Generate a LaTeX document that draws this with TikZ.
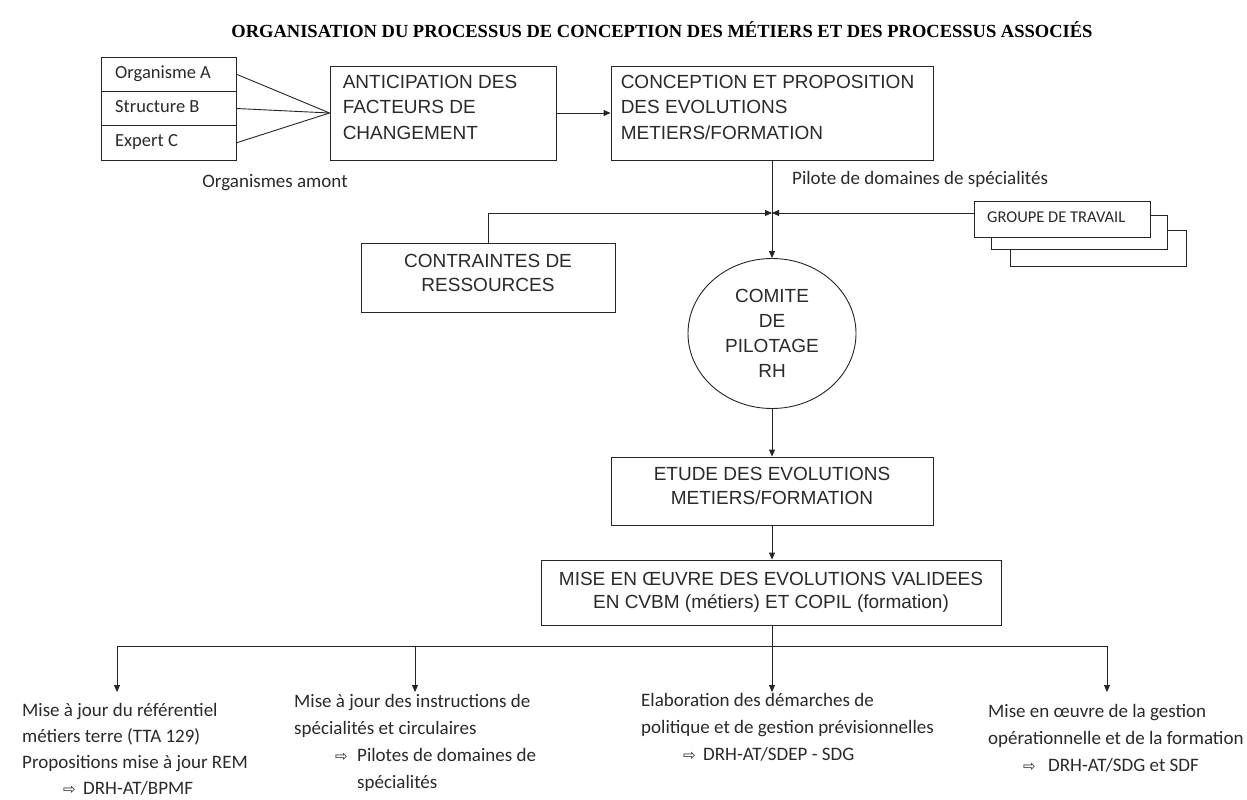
\documentclass[tikz,border=0pt]{standalone}
\usepackage{fontspec}
\setmainfont{Liberation Sans}
\newfontfamily\arialf{Liberation Sans}
\newfontfamily\calibf{Carlito}
\newfontfamily\timesf{Liberation Serif}
\newfontfamily\djvf{DejaVu Sans}
\usetikzlibrary{shapes.geometric,arrows.meta}
\definecolor{ink}{HTML}{2A2A2A}
\definecolor{edge}{HTML}{262626}
\newcommand{\indarrow}[2]{\hspace*{#1}\makebox[#2][l]{\djvf\fontsize{15}{15}\selectfont ⇨}}
\begin{document}
\begin{tikzpicture}[x=1pt,y=-1pt,
  box/.style={draw=edge, line width=0.9pt, rectangle, inner sep=0pt, fill=white},
  atxt/.style={font=\arialf\fontsize{19}{25.5}\selectfont, text=ink, inner sep=0pt},
  ctxt/.style={font=\calibf\fontsize{19}{27}\selectfont, text=ink, inner sep=0pt},
  conn/.style={draw=edge, line width=0.9pt},
  arr/.style={conn, -{Triangle[length=7pt,width=6pt]}},
]
\useasboundingbox[fill=white] (0,0) rectangle (1247,800);

% title
\node[font=\timesf\bfseries\fontsize{18.5}{20}\selectfont, text=black, inner sep=0pt] (title) at (662,30)
  {ORGANISATION DU PROCESSUS DE CONCEPTION DES MÉTIERS ET DES PROCESSUS ASSOCIÉS};

% upstream organisations
\tikzset{orgbox/.style={box, minimum width=135pt, minimum height=34.33pt},
  orgtxt/.style={ctxt, font=\calibf\fontsize{18.5}{20}\selectfont, anchor=mid west}}
\node[orgbox] (orgA) at (168.5,74.2) {};
\node[orgbox] (orgB) at (168.5,108.5) {};
\node[orgbox] (orgC) at (168.5,142.8) {};
\node[orgtxt] (orgAt) at (115,75.5) {Organisme A};
\node[orgtxt] (orgBt) at (115,109.8) {Structure B};
\node[orgtxt] (orgCt) at (115,144.1) {Expert C};
\node[ctxt] (amont) at (275,183) {Organismes amont};

% anticipation
\node[box, minimum width=226pt, minimum height=94pt] (antic) at (443,113) {};
\node[atxt, anchor=north west, align=left] (antict) at ([xshift=13pt,yshift=-9pt]antic.north west)
  {ANTICIPATION DES\\FACTEURS DE\\CHANGEMENT};

% conception
\node[box, minimum width=322pt, minimum height=94pt] (concep) at (772,113) {};
\node[atxt, anchor=north west, align=left] (concept) at ([xshift=10pt,yshift=-9pt]concep.north west)
  {CONCEPTION ET PROPOSITION\\DES EVOLUTIONS\\METIERS/FORMATION};

\node[ctxt, anchor=west] (pilote) at (792,179) {Pilote de domaines de spécialités};

% groupe de travail (stack)
\tikzset{gbox/.style={box, minimum width=176pt, minimum height=36pt}}
\node[gbox] (g3) at (1098.5,248) {};
\node[gbox, minimum height=34pt] (g2) at (1079.5,232) {};
\node[gbox] (g1) at (1062,219) {};
\node[ctxt, font=\calibf\fontsize{16.5}{18}\selectfont, anchor=mid west] (g1t) at (987,220) {GROUPE DE TRAVAIL};

% contraintes
\node[box, minimum width=254pt, minimum height=69pt] (contr) at (488,277.5) {};
\node[atxt, align=center, font=\arialf\fontsize{19}{24}\selectfont] (contrt) at (488,273) {CONTRAINTES DE\\RESSOURCES};

% comite
\node[draw=edge, line width=0.9pt, ellipse, minimum width=168pt, minimum height=150pt, inner sep=0pt,
  align=center, atxt, font=\arialf\fontsize{19}{25}\selectfont] (comite) at (772,333.5) {COMITE\\DE\\PILOTAGE\\RH};

% etude
\node[box, minimum width=322pt, minimum height=68pt] (etude) at (772,491) {};
\node[atxt, align=center, font=\arialf\fontsize{19}{24}\selectfont] (etudet) at (772,486) {ETUDE DES EVOLUTIONS\\METIERS/FORMATION};

% mise en oeuvre
\node[box, minimum width=460pt, minimum height=65pt, align=center, atxt, font=\arialf\fontsize{19}{23}\selectfont] (mise) at (771,592.5) {MISE EN ŒUVRE DES EVOLUTIONS VALIDEES\\EN CVBM (métiers) ET COPIL (formation)};

% junction
\coordinate (jn) at (772,213);

% bottom blocks
\node[ctxt, anchor=north west, align=left, font=\calibf\fontsize{19}{26}\selectfont] (b1) at (22,703)
  {Mise à jour du référentiel\\métiers terre (TTA 129)\\Propositions mise à jour REM\\\indarrow{41pt}{20pt}DRH-AT/BPMF};
\node[ctxt, anchor=north west, align=left] (b2) at (294,694)
  {Mise à jour des instructions de\\spécialités et circulaires\\\indarrow{41pt}{22pt}Pilotes de domaines de\\\hspace*{63pt}spécialités};
\node[ctxt, anchor=north west, align=left] (b3) at (641,693)
  {Elaboration des démarches de\\politique et de gestion prévisionnelles\\\indarrow{42pt}{20pt}DRH-AT/SDEP - SDG};
\node[ctxt, anchor=north west, align=left] (b4) at (988,704)
  {Mise en œuvre de la gestion\\opérationnelle et de la formation\\\indarrow{35pt}{25pt}DRH-AT/SDG et SDF};

\coordinate (h1) at (117,646);
\coordinate (h2) at (415,646);
\coordinate (h4) at (1107,646);
\coordinate (t1) at (117,692);
\coordinate (t2) at (415,692);
\coordinate (t3) at (772,692);
\coordinate (t4) at (1107,692);

% connectors
\draw[conn] (orgA.east) -- (antic.west);
\draw[conn] (orgB.east) -- (antic.west);
\draw[conn] (orgC.east) -- (antic.west);
\draw[arr] (antic.east) -- (concep.west);
\draw[arr] (concep.south) -- (comite.north);
\draw[arr] (contr.north) |- (jn);
\draw[arr] (g1.west |- jn) -- (jn);
\draw[arr] (comite.south) -- (etude.north);
\draw[arr] (etude.south) -- (mise.north -| etude.south);
\draw[arr] (mise.south -| t3) -- (t3);
\draw[conn] (h1) -- (h4);
\draw[arr] (h1) -- (t1);
\draw[arr] (h2) -- (t2);
\draw[arr] (h4) -- (t4);
\end{tikzpicture}
\end{document}
